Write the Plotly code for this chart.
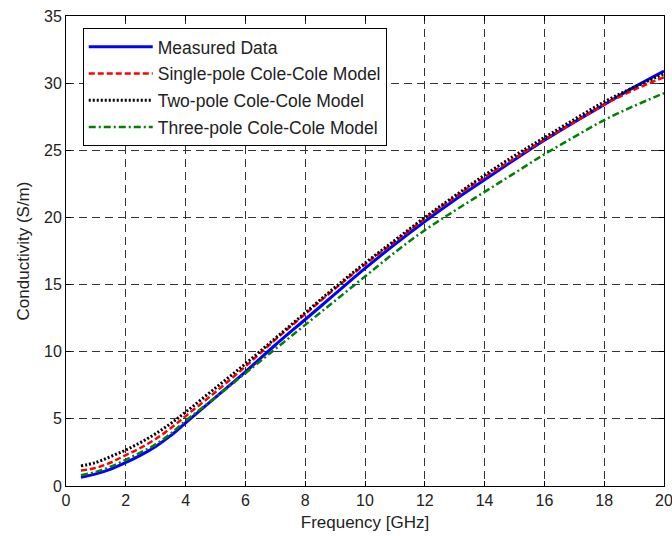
import plotly.graph_objects as go

freq = [0.5, 1, 1.5, 2, 2.5, 3, 3.5, 4, 5, 6, 7, 8, 9, 10, 11, 12, 13, 14, 15, 16, 17, 18, 19, 20]
measured = [0.65, 0.9, 1.25, 1.75, 2.3, 2.95, 3.75, 4.7, 6.6, 8.5, 10.5, 12.4, 14.3, 16.2, 18.0, 19.7, 21.3, 22.8, 24.3, 25.75, 27.1, 28.4, 29.7, 30.9]
single_pole = [1.15, 1.35, 1.75, 2.3, 2.85, 3.5, 4.3, 5.2, 7.0, 8.9, 10.9, 12.8, 14.7, 16.5, 18.2, 19.9, 21.5, 23.0, 24.4, 25.8, 27.1, 28.4, 29.5, 30.45]
two_pole = [1.5, 1.75, 2.2, 2.68, 3.25, 3.9, 4.65, 5.5, 7.3, 9.1, 11.0, 12.9, 14.8, 16.6, 18.3, 20.0, 21.6, 23.15, 24.6, 25.95, 27.3, 28.6, 29.7, 30.7]
three_pole = [0.8, 1.05, 1.45, 1.95, 2.5, 3.1, 3.9, 4.85, 6.6, 8.4, 10.2, 12.0, 13.8, 15.6, 17.4, 19.05, 20.5, 21.9, 23.3, 24.7, 26.0, 27.25, 28.3, 29.25]

x_ticks = list(range(0, 21, 2))
y_ticks = list(range(0, 36, 5))

FONT = "Liberation Sans, Arial"
TXT = "#222222"

fig = go.Figure()
fig.add_trace(go.Scatter(x=freq, y=measured, mode="lines", name="Measured Data", legendgroup="a",
                         line=dict(color="#0000ff", width=3, shape="spline")))
fig.add_trace(go.Scatter(x=freq, y=single_pole, mode="lines", name="Single-pole Cole-Cole Model", legendgroup="b",
                         line=dict(color="#ff0000", width=2.5, dash="6px,3px", shape="spline")))
fig.add_trace(go.Scatter(x=freq, y=two_pole, mode="lines", name="Two-pole Cole-Cole Model", legendgroup="c",
                         line=dict(color="#000000", width=3, dash="2px,2px", shape="spline")))
fig.add_trace(go.Scatter(x=freq, y=three_pole, mode="lines", name="Three-pole Cole-Cole Model", legendgroup="d",
                         line=dict(color="#008000", width=2.5, dash="7px,3px,2px,3px", shape="spline")))

axis_common = dict(
    showline=True, linecolor="black", linewidth=1, mirror="ticks",
    ticks="inside", ticklen=5, tickcolor="black",
    showgrid=True, gridcolor="#333333", gridwidth=1, griddash="8px,5px",
    zeroline=False, ticklabeloverflow="allow", automargin=False,
    tickfont=dict(family=FONT, size=16, color=TXT),
)

fig.update_xaxes(range=[0, 20], tickvals=x_ticks, ticktext=[str(v) for v in x_ticks],
                 title=dict(text="Frequency [GHz]", font=dict(family=FONT, size=17, color=TXT), standoff=7),
                 **axis_common)
fig.update_yaxes(range=[0, 35], tickvals=y_ticks, ticktext=[str(v) for v in y_ticks],
                 title=dict(text="Conductivity (S/m)", font=dict(family=FONT, size=17, color=TXT), standoff=10),
                 **axis_common)

fig.update_layout(
    width=672, height=536,
    margin=dict(l=66, r=8, t=16, b=50),
    paper_bgcolor="white", plot_bgcolor="white",
    showlegend=True,
    legend=dict(x=0.028, y=0.9745, xanchor="left", yanchor="top",
                bgcolor="white", bordercolor="black", borderwidth=1,
                font=dict(family=FONT, size=17.5, color=TXT),
                itemwidth=64, tracegroupgap=1),
)

fig.write_html("out.html")
